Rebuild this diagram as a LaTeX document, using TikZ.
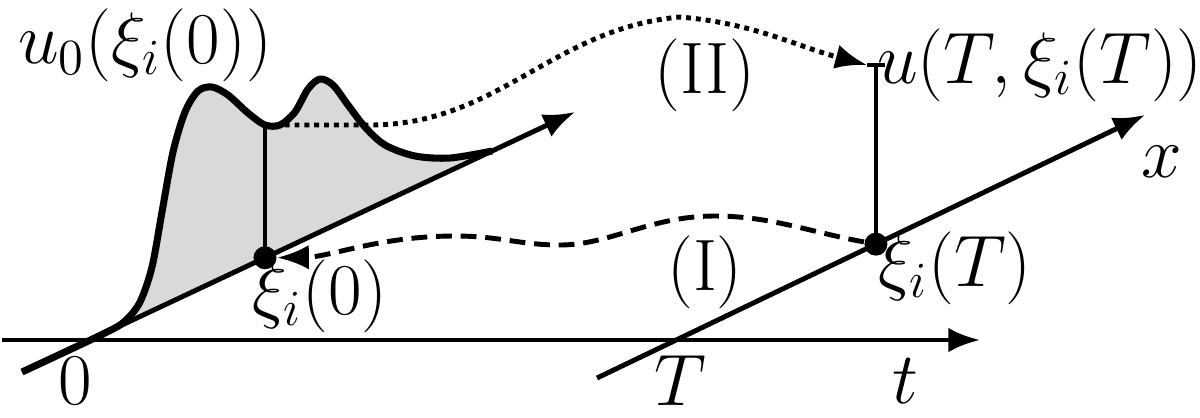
\documentclass[tikz,border=0pt]{standalone}
\usetikzlibrary{arrows.meta,calc}
\begin{document}
\begin{tikzpicture}[x=0.01cm, y=0.01cm,
    axis/.style={line width=1.4pt, -{Latex[length=9pt,width=7pt]}},
    lbl/.style={font=\fontsize{20.74}{25}\selectfont, inner sep=1pt},
    pt/.style={circle, fill, inner sep=0pt, minimum size=0.23cm}]
  \useasboundingbox (0,0) rectangle (1200,417);

  % axes
  \coordinate (ta) at (2,77);
  \coordinate (tb) at (980,77);
  \coordinate (xa) at (22,45);
  \coordinate (xb) at (575,305);
  \coordinate (ya) at (597,39);
  \coordinate (yb) at (1145,302);
  \coordinate (xe) at ($(xa)!0.85!(xb)$);

  % initial profile
  \fill[black!15] plot[smooth] coordinates {(xa) (105,84) (125,96) (140,115)
    (152,150) (162,205) (173,265) (185,305) (198,326) (212,330) (228,322)
    (248,304) (265,292) (280,292) (295,305) (308,328) (320,338) (333,332)
    (348,312) (365,290) (385,272) (415,261) (450,259) (xe)} -- cycle;

  \draw[axis] (ta) -- (tb);
  \draw[axis] (xa) -- (xb);
  \draw[axis] (ya) -- (yb);

  \draw[line width=2pt, line join=round] plot[smooth] coordinates {(xa)
    (105,84) (125,96) (140,115) (152,150) (162,205) (173,265) (185,305)
    (198,326) (212,330) (228,322) (248,304) (265,292) (280,292) (295,305)
    (308,328) (320,338) (333,332) (348,312) (365,290) (385,272) (415,261)
    (450,259) (xe)};

  \node[pt] (p0) at ($(xa)!0.4394!(xb)$) {};
  \node[pt] (pT) at ($(ya)!0.509!(yb)$) {};
  \coordinate (u0) at (p0 |- 0,292);
  \coordinate (uT) at (pT |- 0,352);
  \coordinate (tk) at ($(uT)+(-9,0)$);

  \draw[line width=1.1pt] (p0.center) -- (u0);
  \draw[line width=1.1pt] (pT.center) -- (uT);
  \draw[line width=1.1pt] (tk) -- ($(uT)+(9,0)$);

  % (II)
  \draw[line width=1.4pt, dash pattern=on 1.4pt off 1.4pt, -{Latex[length=9pt,width=7pt]}]
    (u0) -- (370,292) to[out=0,in=185] (680,400) to[out=-5,in=165] (tk);
  % (I)
  \draw[line width=1.4pt, dash pattern=on 4.5pt off 2.5pt, -{Latex[length=9pt,width=7pt]}]
    (pT) .. controls (810,185) and (770,201) .. (715,201)
    .. controls (650,201) and (610,172) .. (560,172)
    .. controls (520,172) and (500,181) .. (455,181)
    .. controls (380,181) and (330,160) .. (p0);

  \node[lbl] (lu0) at (145,372) {$u_0(\xi_i(0))$};
  \node[lbl] (lx0) at (320,121) {$\xi_i(0)$};
  \node[lbl] (lxT) at (955,149) {$\xi_i(T)$};
  \node[lbl] (luT) at (1040,352) {$u(T,\xi_i(T))$};
  \node[lbl] (lII) at (705,342) {(II)};
  \node[lbl] (lI) at (705,145) {(I)};
  \node[lbl] (lx) at (1162,255) {$x$};
  \node[lbl] (lt) at (905,36) {$t$};
  \node[lbl] (l0) at (75,36) {$0$};
  \node[lbl] (lT) at (680,36) {$T$};
\end{tikzpicture}
\end{document}
